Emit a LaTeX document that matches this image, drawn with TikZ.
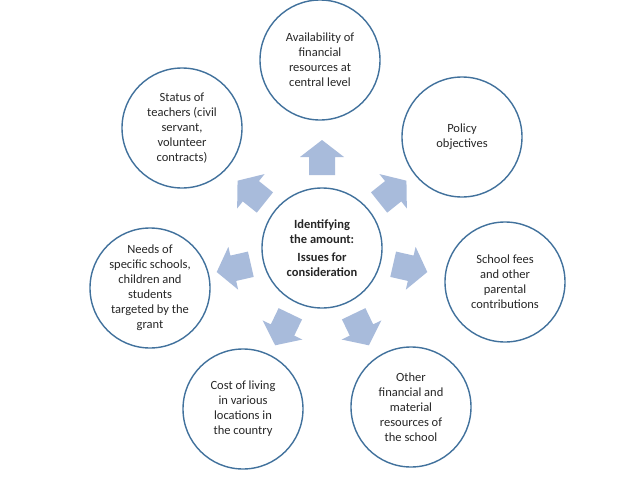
\documentclass[tikz,border=0pt]{standalone}
\usepackage{fontspec}
\setmainfont{Carlito}
\definecolor{ring}{HTML}{41719C}
\definecolor{arr}{HTML}{A8BBDB}
\tikzset{
 bub/.style={circle,draw=ring,line width=1.4pt,minimum size=120pt,inner sep=0pt,align=center,font=\fontsize{12.5pt}{15pt}\selectfont,text=black!85},
 blockarrow/.style={fill=arr,draw=none}
}
\begin{document}
\begin{tikzpicture}[x=1pt,y=-1pt]
\useasboundingbox (0,0) rectangle (638,479);
\node[bub] (c) at (322,248) {\textbf{Identifying}\\\textbf{the amount:}\\[3pt]\textbf{Issues for}\\\textbf{consideration}};
\node[bub] (n1) at (320,60) {Availability of\\financial\\resources at\\central level};
\node[bub] (n2) at (462,137) {Policy\\objectives};
\node[bub] (n3) at (505,282) {School fees\\and other\\parental\\contributions};
\node[bub] (n4) at (411,407) {Other\\financial and\\material\\resources of\\the school};
\node[bub] (n5) at (243,409) {Cost of living\\in various\\locations in\\the country};
\node[bub] (n6) at (150,288) {Needs of\\specific schools,\\children and\\students\\targeted by the\\grant};
\node[bub] (n7) at (182,128) {Status of\\teachers (civil\\servant,\\volunteer\\contracts)};
\foreach \a in {90,38.57,-12.86,-64.29,-115.71,-167.14,141.43}{
  \fill[blockarrow,shift={(c.center)},rotate=\a]
   (73,-13) -- (91,-13) -- (91,-22) -- (108,0) -- (91,22) -- (91,13) -- (73,13) -- cycle;
}
\end{tikzpicture}
\end{document}
